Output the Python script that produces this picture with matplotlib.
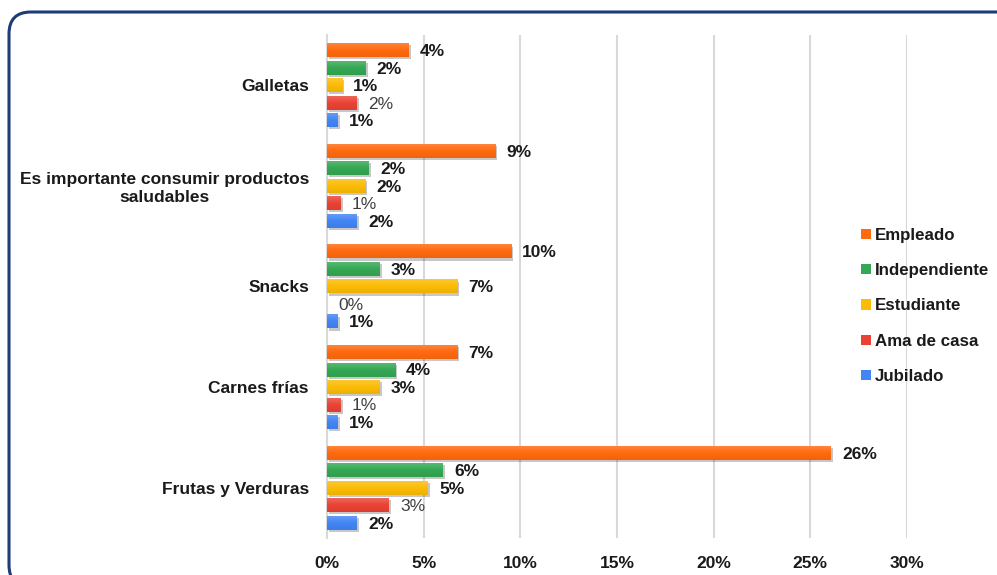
import numpy as np
import matplotlib
matplotlib.use("Agg")
import matplotlib.pyplot as plt
from matplotlib.patches import FancyBboxPatch, Patch
from matplotlib.colors import LinearSegmentedColormap, to_rgb
import matplotlib.patheffects as pe

plt.rcParams['font.family'] = ['Liberation Sans', 'DejaVu Sans']

categories = ["Galletas", "Es importante consumir productos\nsaludables", "Snacks",
              "Carnes frías", "Frutas y Verduras"]
series = ["Empleado", "Independiente", "Estudiante", "Ama de casa", "Jubilado"]
empleado = [4.24, 8.7, 9.52, 6.73, 26.07]
independiente = [2.0, 2.17, 2.74, 3.52, 6.0]
estudiante = [0.78, 1.97, 6.73, 2.74, 5.22]
ama_de_casa = [1.55, 0.72, 0.0, 0.72, 3.2]
jubilado = [0.55, 1.55, 0.55, 0.55, 1.55]
values = [empleado, independiente, estudiante, ama_de_casa, jubilado]
colors = ["#FF6A0E", "#34A853", "#FBBC05", "#EA4335", "#4285F4"]
xticks = [0, 5, 10, 15, 20, 25, 30]

FS = 12.5

fig = plt.figure(figsize=(9.97, 5.75), dpi=100)
ax = fig.add_axes([0.328, 0.0643, 0.5817, 0.875])

# rounded frame around the chart
frame = FancyBboxPatch((9 / 997, -12 / 575), 1012 / 997, (575 - 12 + 12) / 575,
                       boxstyle="round,pad=0,rounding_size=0.022",
                       transform=fig.transFigure, fill=False,
                       edgecolor="#1F3B78", linewidth=2.2, mutation_aspect=997 / 575)
fig.patches.append(frame)

n = len(categories)
y = np.arange(n)
step = 0.174
height = 0.139


def lighten(c, f):
    r = np.array(to_rgb(c))
    return tuple(r + (1 - r) * f)


def darken(c, f):
    r = np.array(to_rgb(c))
    return tuple(r * (1 - f))


for i, (name, vals, col) in enumerate(zip(series, values, colors)):
    pos = y + (i - 2) * step
    bars = ax.barh(pos, vals, height=height, color=col, zorder=3,
                   path_effects=[pe.SimplePatchShadow(offset=(1.5, -1.5), shadow_rgbFace="#000000", alpha=0.22),
                                 pe.Normal()])
    cmap = LinearSegmentedColormap.from_list(name, [lighten(col, 0.18), col, darken(col, 0.06)])
    grad = np.linspace(0, 1, 32).reshape(-1, 1)
    bold = name != "Ama de casa"
    for b, v, p in zip(bars, vals, pos):
        if v > 0:
            im = ax.imshow(grad, extent=[0, v, p + height / 2, p - height / 2], cmap=cmap,
                           aspect='auto', zorder=3.5, origin='upper')
            im.set_clip_path(b)
        ax.annotate(f"{v:.0f}%", xy=(v, p), xytext=(8, -1), textcoords="offset points",
                    ha="left", va="center", fontsize=FS,
                    fontweight="bold" if bold else "normal",
                    color="#1a1a1a" if bold else "#404040", zorder=5)

ax.set_xlim(0, 30)
ax.set_ylim(n - 0.5, -0.5)
ax.set_xticks(xticks)
ax.set_xticklabels([f"{t}%" for t in xticks], fontsize=FS, fontweight="bold", color="#1a1a1a")
ax.set_yticks(y)
ax.set_yticklabels(categories, fontsize=FS, fontweight="bold", color="#1a1a1a",
                   multialignment="center")
ax.tick_params(axis="both", length=0)
ax.tick_params(axis="x", pad=13)
ax.tick_params(axis="y", pad=13)
ax.grid(axis="x", color="#D9D9D9", linewidth=1.5, zorder=0)
ax.set_axisbelow(True)
for s in ["top", "right", "bottom"]:
    ax.spines[s].set_visible(False)
ax.spines["left"].set_color("#D9D9D9")
ax.spines["left"].set_linewidth(1.5)

handles = [Patch(facecolor=c, edgecolor="none", label=s) for s, c in zip(series, colors)]
fig.legend(handles=handles, loc="center left", bbox_to_anchor=(846 / 997, 1 - 306 / 575),
           frameon=False, prop={"weight": "bold", "size": 12.2},
           handlelength=0.55, handleheight=0.55, handletextpad=0.25, labelspacing=1.2,
           labelcolor="#1a1a1a")

fig.savefig("out.png", dpi=100)
